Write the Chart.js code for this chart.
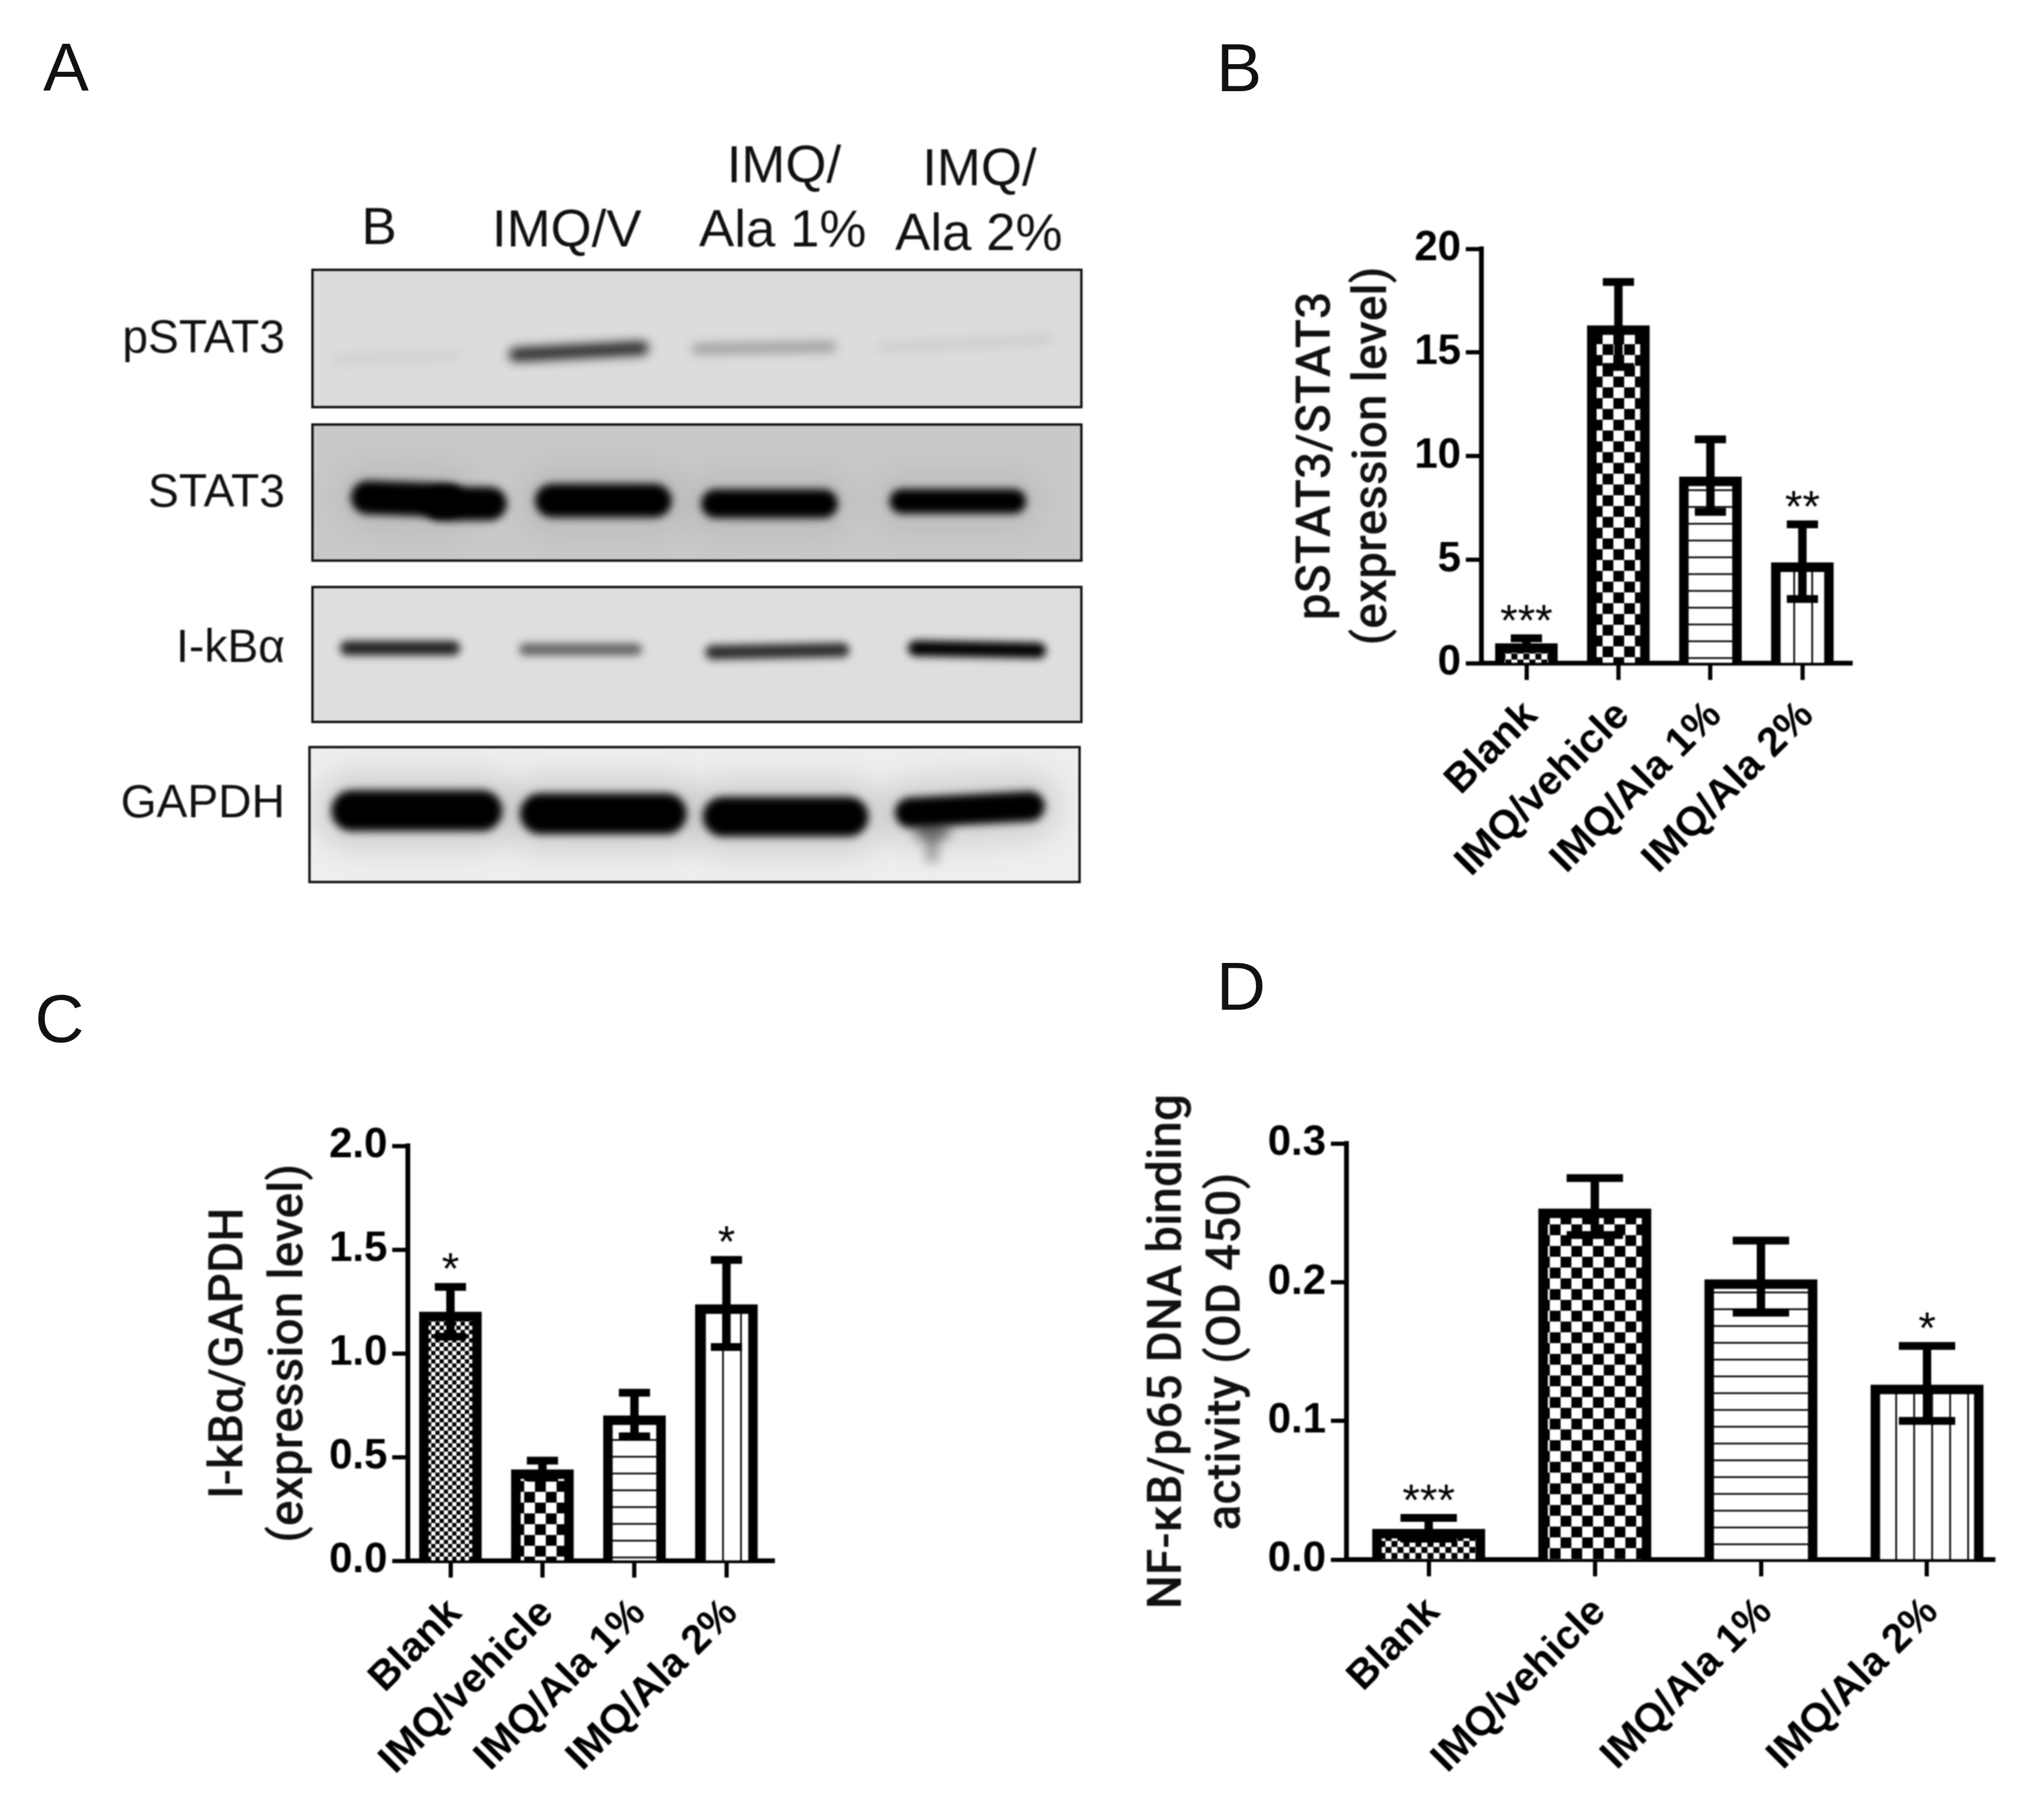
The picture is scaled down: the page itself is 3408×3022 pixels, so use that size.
<!DOCTYPE html>
<html>
<head>
<meta charset="utf-8">
<title>Blots and expression levels</title>
<script src="https://cdn.jsdelivr.net/npm/chart.js@4"></script>
<style>
    body { margin: 0; background: #fff; width: 3408px; height: 3022px; position: relative; overflow: hidden; }
    canvas { position: absolute; filter: blur(0.8px); }
    .letter { position: absolute; font: 114px/114px "Liberation Sans"; color: #111; }
</style>
</head>
<body>
<div class="letter" style="left:72px;top:55px">A</div>
<div class="letter" style="left:2028px;top:56px">B</div>
<div class="letter" style="left:58px;top:1642px">C</div>
<div class="letter" style="left:2028px;top:1588px">D</div>
<canvas id="blots"></canvas>
<canvas id="chartB"></canvas>
<canvas id="chartC"></canvas>
<canvas id="chartD"></canvas>
<script>
const categories = ['Blank', 'IMQ/vehicle', 'IMQ/Ala 1%', 'IMQ/Ala 2%'];

// panel B
const stat3Means = [0.95, 16.3, 9.0, 4.85];
const stat3Upper = [1.2, 18.4, 10.8, 6.7];
const stat3Lower = [0.7, 14.3, 7.3, 3.1];
const stat3Marks = ['***', '', '', '**'];

// panel C
const ikbMeans = [1.2, 0.44, 0.7, 1.235];
const ikbUpper = [1.32, 0.483, 0.81, 1.45];
const ikbLower = [1.08, 0.4, 0.6, 1.03];
const ikbMarks = ['*', '', '', '*'];

// panel D
const nfkbMeans = [0.022, 0.253, 0.202, 0.126];
const nfkbUpper = [0.03, 0.275, 0.23, 0.154];
const nfkbLower = [0.015, 0.234, 0.178, 0.1];
const nfkbMarks = ['***', '', '', '*'];

// panel A, darkness of each band
const blotRows = ['pSTAT3', 'STAT3', 'I-kB\u03b1', 'GAPDH'];
const pstat3Bands = [0.07, 0.85, 0.35, 0.1];
const stat3Bands = [1, 1, 1, 1];
const ikbBands = [0.85, 0.55, 0.8, 1];
const gapdhBands = [1, 1, 1, 1];

const FONT = '"Liberation Sans", Arial, sans-serif';

function makePattern(kind, size) {
    const c = document.createElement('canvas');
    const g = c.getContext('2d');
    if (kind === 'check') {
        c.width = c.height = size * 2;
        g.fillStyle = '#fff';
        g.fillRect(0, 0, size * 2, size * 2);
        g.fillStyle = '#000';
        g.fillRect(0, 0, size, size);
        g.fillRect(size, size, size, size);
    } else if (kind === 'hlines') {
        c.width = 4; c.height = size;
        g.fillStyle = '#fff';
        g.fillRect(0, 0, 4, size);
        g.fillStyle = '#111';
        g.fillRect(0, 0, 4, 3);
    } else {
        c.width = size; c.height = 4;
        g.fillStyle = '#fff';
        g.fillRect(0, 0, size, 4);
        g.fillStyle = '#111';
        g.fillRect(0, 0, 3, 4);
    }
    return g.createPattern(c, 'repeat');
}

// whiskers and significance stars
const errorBars = {
    id: 'errorBars',
    afterDatasetsDraw(chart, args, opts) {
        const { ctx, scales } = chart;
        ctx.save();
        ctx.strokeStyle = '#000';
        opts.upper.forEach((hi, i) => {
            const x = scales.x.getPixelForValue(i);
            const top = scales.y.getPixelForValue(hi);
            const bottom = scales.y.getPixelForValue(opts.lower[i]);
            ctx.lineWidth = 14;
            ctx.beginPath();
            ctx.moveTo(x, top);
            ctx.lineTo(x, bottom);
            ctx.stroke();
            ctx.lineWidth = 13;
            ctx.beginPath();
            ctx.moveTo(x - opts.cap / 2, top);
            ctx.lineTo(x + opts.cap / 2, top);
            ctx.moveTo(x - opts.cap / 2, bottom);
            ctx.lineTo(x + opts.cap / 2, bottom);
            ctx.stroke();
            if (opts.marks[i]) {
                ctx.fillStyle = '#000';
                ctx.font = '75px ' + FONT;
                ctx.textAlign = 'center';
                ctx.textBaseline = 'alphabetic';
                ctx.fillText(opts.marks[i], x, top - 5);
            }
        });
        ctx.restore();
    }
};

function barPanel(id, p) {
    const canvas = document.getElementById(id);
    canvas.width = p.width;
    canvas.height = p.height;
    canvas.style.left = p.left + 'px';
    canvas.style.top = p.top + 'px';
    return new Chart(canvas, {
        type: 'bar',
        data: {
            datasets: [{
                data: p.means.map((v, i) => ({ x: i, y: v })),
                backgroundColor: [makePattern('check', p.fineCell), makePattern('check', 18), makePattern('hlines', 28), makePattern('vlines', 30)],
                borderColor: '#000',
                borderWidth: 16,
                borderSkipped: 'bottom',
                barThickness: p.barWidth
            }]
        },
        plugins: [errorBars],
        options: {
            responsive: false,
            animation: false,
            devicePixelRatio: 1,
            layout: { padding: { top: p.axisTop - p.top, right: p.width - (p.axisRight - p.left) } },
            plugins: {
                legend: { display: false },
                tooltip: { enabled: false },
                errorBars: { upper: p.upper, lower: p.lower, marks: p.marks, cap: p.cap }
            },
            scales: {
                x: {
                    type: 'linear',
                    offset: false,
                    min: p.xMin,
                    max: p.xMax,
                    afterBuildTicks(scale) { scale.ticks = categories.map((c, i) => ({ value: i })); },
                    afterFit(scale) { scale.height = p.top + p.height - p.axisBottom; },
                    border: { color: '#000', width: 8 },
                    grid: { offset: false, drawOnChartArea: false, tickLength: 28, tickWidth: 7, tickColor: '#000' },
                    ticks: {
                        autoSkip: false,
                        minRotation: 45,
                        maxRotation: 45,
                        padding: 20,
                        labelOffset: 8,
                        color: '#000',
                        font: { family: FONT, size: 68, weight: 'bold' },
                        callback: v => categories[v]
                    }
                },
                y: {
                    min: 0,
                    max: p.yMax,
                    afterFit(scale) { scale.width = p.axisLeft - p.left; },
                    border: { color: '#000', width: 8 },
                    grid: { drawOnChartArea: false, tickLength: 26, tickWidth: 7, tickColor: '#000' },
                    ticks: {
                        stepSize: p.yStep,
                        padding: 8,
                        color: '#000',
                        font: { family: FONT, size: 70, weight: 'bold' },
                        callback: v => v.toFixed(p.yDigits)
                    },
                    title: {
                        display: true,
                        text: p.title,
                        color: '#111',
                        padding: 0,
                        font: { family: 'Roboto, ' + FONT, size: p.titleSize, weight: '500', lineHeight: p.titleLine }
                    }
                }
            }
        }
    });
}

barPanel('chartB', {
    left: 2150, top: 340, width: 1000, height: 1170,
    axisLeft: 2470, axisRight: 3088, axisTop: 415, axisBottom: 1106,
    xMin: -0.489, xMax: 3.54, yMax: 20, yStep: 5, yDigits: 0, barWidth: 104, cap: 52, fineCell: 10,
    means: stat3Means, upper: stat3Upper, lower: stat3Lower, marks: stat3Marks,
    title: ['pSTAT3/STAT3', '(expression level)'], titleSize: 80, titleLine: 94 / 80
});
barPanel('chartC', {
    left: 334, top: 1840, width: 1020, height: 1170,
    axisLeft: 680, axisRight: 1291, axisTop: 1911, axisBottom: 2603,
    xMin: -0.463, xMax: 3.52, yMax: 2, yStep: 0.5, yDigits: 1, barWidth: 104, cap: 52, fineCell: 7,
    means: ikbMeans, upper: ikbUpper, lower: ikbLower, marks: ikbMarks,
    title: ['I-kB\u03b1/GAPDH', '(expression level)'], titleSize: 80, titleLine: 100 / 80
});
barPanel('chartD', {
    left: 1900, top: 1790, width: 1480, height: 1220,
    axisLeft: 2245, axisRight: 3326, axisTop: 1907, axisBottom: 2601,
    xMin: -0.495, xMax: 3.408, yMax: 0.3, yStep: 0.1, yDigits: 1, barWidth: 188, cap: 94, fineCell: 10,
    means: nfkbMeans, upper: nfkbUpper, lower: nfkbLower, marks: nfkbMarks,
    title: ['NF-\u03baB/p65 DNA binding', 'activity (OD 450)'], titleSize: 80, titleLine: 98 / 80
});

// panel A layout, x and y scales below run in page pixels
const blotBoxes = [
    { x0: 521, x1: 1803, y0: 450, y1: 679, fill: '#dcdcdc' },
    { x0: 521, x1: 1803, y0: 708, y1: 935, fill: '#c9c9c9' },
    { x0: 521, x1: 1803, y0: 979, y1: 1204, fill: '#dedede' },
    { x0: 516, x1: 1800, y0: 1246, y1: 1471, fill: '#eeeeee' }
];
const blotShapes = [
    [{ x: 662, y: 596, w: 210, h: 12, tilt: -2 }, { x: 965, y: 586, w: 233, h: 22, tilt: -3 }, { x: 1274, y: 580, w: 240, h: 14, tilt: -1 }, { x: 1608, y: 573, w: 290, h: 10, tilt: -3 }],
    [{ x: 680, y: 832, w: 190, h: 56, tilt: 2 }, { x: 1006, y: 835, w: 228, h: 56, tilt: 0 }, { x: 1283, y: 840, w: 228, h: 48, tilt: 0 }, { x: 1597, y: 836, w: 228, h: 41, tilt: 0 }],
    [{ x: 667, y: 1081, w: 200, h: 24, tilt: 0 }, { x: 968, y: 1083, w: 205, h: 20, tilt: 0 }, { x: 1296, y: 1086, w: 240, h: 24, tilt: -1 }, { x: 1629, y: 1083, w: 230, h: 26, tilt: 1 }],
    [{ x: 695, y: 1352, w: 285, h: 68, tilt: 0 }, { x: 1006, y: 1357, w: 278, h: 68, tilt: 0 }, { x: 1310, y: 1362, w: 276, h: 66, tilt: 0 }, { x: 1617, y: 1350, w: 250, h: 50, tilt: -3 }]
];
const rowBaselines = [588, 845, 1104, 1363];
const laneHeads = [
    { text: 'B', x: 632, y: 407 }, { text: 'IMQ/V', x: 945, y: 411 },
    { text: 'IMQ/', x: 1307, y: 304 }, { text: 'Ala 1%', x: 1305, y: 411 },
    { text: 'IMQ/', x: 1633, y: 309 }, { text: 'Ala 2%', x: 1632, y: 417 }
];
const bandLevels = [pstat3Bands, stat3Bands, ikbBands, gapdhBands];

function band(ctx, xs, ys, s, dark, blur) {
    const cx = xs.getPixelForValue(s.x), cy = ys.getPixelForValue(s.y);
    ctx.save();
    ctx.translate(cx, cy);
    ctx.rotate(s.tilt * Math.PI / 180);
    ctx.filter = 'blur(' + blur + 'px)';
    ctx.fillStyle = 'rgba(0,0,0,' + dark + ')';
    ctx.beginPath();
    ctx.roundRect(-s.w / 2, -s.h / 2, s.w, s.h, s.h / 2);
    ctx.fill();
    ctx.restore();
}

const blotPlugin = {
    id: 'blotPlugin',
    beforeDraw(chart) {
        const { ctx } = chart;
        const xs = chart.scales.x, ys = chart.scales.y;
        ctx.save();
        blotBoxes.forEach((b, r) => {
            const x0 = xs.getPixelForValue(b.x0), x1 = xs.getPixelForValue(b.x1);
            const y0 = ys.getPixelForValue(b.y0), y1 = ys.getPixelForValue(b.y1);
            ctx.save();
            ctx.beginPath();
            ctx.rect(x0, y0, x1 - x0, y1 - y0);
            ctx.clip();
            ctx.fillStyle = b.fill;
            ctx.fillRect(x0, y0, x1 - x0, y1 - y0);
            // grey halo round the heavy bands
            if (r === 1 || r === 3) {
                blotShapes[r].forEach(s => band(ctx, xs, ys, { ...s, h: s.h + 60, w: s.w + 50 }, r === 1 ? 0.06 : 0.12, 24));
            }
            blotShapes[r].forEach((s, i) => band(ctx, xs, ys, s, bandLevels[r][i], r === 0 ? 9 : 7));
            if (r === 1) band(ctx, xs, ys, { x: 775, y: 840, w: 140, h: 56, tilt: 0 }, 1, 7);
            if (r === 3) {
                band(ctx, xs, ys, { x: 1554, y: 1385, w: 60, h: 30, tilt: 0 }, 0.5, 10);
                band(ctx, xs, ys, { x: 1554, y: 1415, w: 22, h: 50, tilt: 0 }, 0.3, 9);
            }
            ctx.restore();
            ctx.strokeStyle = '#111';
            ctx.lineWidth = 4;
            ctx.strokeRect(x0, y0, x1 - x0, y1 - y0);
        });
        ctx.fillStyle = '#111';
        ctx.textBaseline = 'alphabetic';
        ctx.font = '77px ' + FONT;
        ctx.textAlign = 'right';
        blotRows.forEach((name, r) => ctx.fillText(name, xs.getPixelForValue(475), ys.getPixelForValue(rowBaselines[r])));
        ctx.font = '88px ' + FONT;
        ctx.textAlign = 'center';
        laneHeads.forEach(h => ctx.fillText(h.text, xs.getPixelForValue(h.x), ys.getPixelForValue(h.y)));
        ctx.restore();
    }
};

const blotCanvas = document.getElementById('blots');
blotCanvas.width = 1900;
blotCanvas.height = 1520;
blotCanvas.style.left = '0px';
blotCanvas.style.top = '0px';
new Chart(blotCanvas, {
    type: 'scatter',
    data: { datasets: [{ data: [] }] },
    plugins: [blotPlugin],
    options: {
        responsive: false,
        animation: false,
        devicePixelRatio: 1,
        plugins: { legend: { display: false }, tooltip: { enabled: false } },
        scales: {
            x: { display: false, min: 0, max: 1900 },
            y: { display: false, min: 0, max: 1520, reverse: true }
        }
    }
});
</script>
</body>
</html>
